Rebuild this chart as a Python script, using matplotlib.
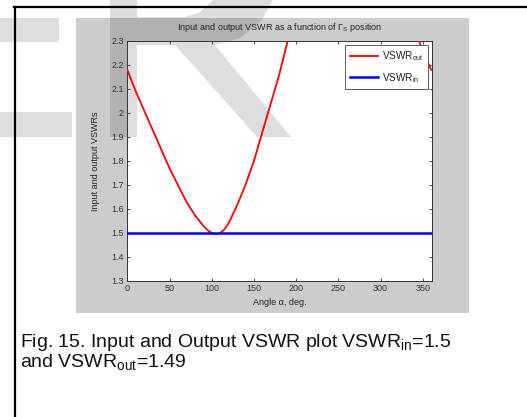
import numpy as np
import matplotlib
matplotlib.use("Agg")
import matplotlib.pyplot as plt
from matplotlib.patches import Rectangle, Polygon
from matplotlib.lines import Line2D

plt.rcParams['font.family'] = ['Liberation Sans', 'DejaVu Sans']
plt.rcParams['mathtext.fontset'] = 'custom'
plt.rcParams['mathtext.rm'] = 'Liberation Sans'
plt.rcParams['mathtext.it'] = 'Liberation Sans:italic'
plt.rcParams['mathtext.bf'] = 'Liberation Sans:bold'

# values (curve goes above 2.3 between ~190 and ~345 deg)
angle = [0, 10, 20, 30, 40, 50, 60, 70, 80, 90, 95, 100, 105, 110, 115, 120,
         130, 140, 150, 160, 170, 180, 190, 200, 220, 250, 280, 310, 330,
         340, 350, 360]
vswr_out = [2.18, 2.09, 2.01, 1.93, 1.85, 1.77, 1.70, 1.63, 1.575, 1.53, 1.512,
            1.50, 1.495, 1.50, 1.515, 1.54, 1.615, 1.70, 1.80, 1.92, 2.04,
            2.16, 2.30, 2.42, 2.65, 2.91, 3.00, 2.80, 2.46, 2.35, 2.26, 2.18]
angle_in = [0, 360]
vswr_in = [1.5, 1.5]

xticks = [0, 50, 100, 150, 200, 250, 300, 350]
yticks = [1.3, 1.4, 1.5, 1.6, 1.7, 1.8, 1.9, 2.0, 2.1, 2.2, 2.3]
ytick_labels = ['1.3', '1.4', '1.5', '1.6', '1.7', '1.8', '1.9', '2', '2.1', '2.2', '2.3']

W, H = 527, 417
fig = plt.figure(figsize=(W / 100, H / 100), dpi=100)
fig.patch.set_facecolor('white')


def px(x, y):
    # pixel position (origin top-left) -> figure fraction
    return (x / W, 1 - y / H)


# grey matlab figure area
fig.patches.append(Rectangle(px(76, 313), (469 - 76) / W, (313 - 18) / H,
                             transform=fig.transFigure, facecolor='#cccccc',
                             edgecolor='none', zorder=-5))

# page border lines
fig.lines.append(Line2D([14 / W, 1], [1 - 7 / H] * 2, transform=fig.transFigure,
                        color='black', lw=1.6, zorder=-4))
fig.lines.append(Line2D([15 / W, 15 / W], [1 - 7 / H, 0], transform=fig.transFigure,
                        color='black', lw=1.6, zorder=-4))

ax = fig.add_axes([127.3 / W, 1 - 281 / H, (432 - 127.3) / W, (281 - 41) / H])

# watermark shapes
wm = [
    [(110, 0), (137, 0), (137, 137), (110, 137)],
    [(137, 17), (185, 17), (200, 12), (213, 0), (273, 0), (262, 20), (240, 38),
     (215, 45), (137, 45)],
    [(175, 45), (215, 45), (291, 137), (257, 137)],
    [(0, 18), (59, 18), (59, 42), (0, 42)],
    [(0, 112), (72, 112), (72, 137), (0, 137)],
]
for shape in wm:
    p = Polygon([px(x, y) for x, y in shape], closed=True, transform=fig.transFigure,
                facecolor='black', alpha=0.13, edgecolor='none', clip_on=False,
                zorder=0.5)
    ax.add_artist(p)

ax.plot(angle, vswr_out, color='red', lw=1.3, label=r'VSWR$_{\mathrm{out}}$', zorder=3)
ax.plot(angle_in, vswr_in, color='blue', lw=1.8, label=r'VSWR$_{\mathrm{in}}$', zorder=3)

ax.set_xlim(0, 361)
ax.set_ylim(1.3, 2.3)
ax.set_xticks(xticks)
ax.set_yticks(yticks)
ax.set_yticklabels(ytick_labels)
ax.tick_params(direction='in', top=True, right=True, length=2.5, width=0.6,
               labelsize=6.5, colors='#333333', pad=2.5)
for s in ax.spines.values():
    s.set_color('#333333')
    s.set_linewidth(0.7)

ax.set_title(r'Input and output VSWR as a function of $\Gamma_{\mathrm{S}}$ position',
             fontsize=6.5, color='#222222', pad=8)
ax.set_xlabel('Angle α, deg.', fontsize=6.5, color='#222222', labelpad=3)
ax.set_ylabel('Input and output VSWRs', fontsize=6.5, color='#222222', labelpad=8)

leg = ax.legend(loc='upper right', fontsize=7.2, fancybox=False, framealpha=1,
                edgecolor='#444444', handlelength=2.8, borderaxespad=0.4,
                labelspacing=0.75, handletextpad=0.4, borderpad=0.45)
leg.get_frame().set_linewidth(0.6)
for t in leg.get_texts():
    t.set_color('#222222')

fig.text(20 / W, 1 - 347 / H, r'Fig. 15. Input and Output VSWR plot VSWR$_{\mathrm{in}}$=1.5',
         fontsize=14, va='baseline', ha='left', color='#111111')
fig.text(20 / W, 1 - 367 / H, r'and VSWR$_{\mathrm{out}}$=1.49',
         fontsize=14, va='baseline', ha='left', color='#111111')

fig.savefig('out.png', dpi=100)
